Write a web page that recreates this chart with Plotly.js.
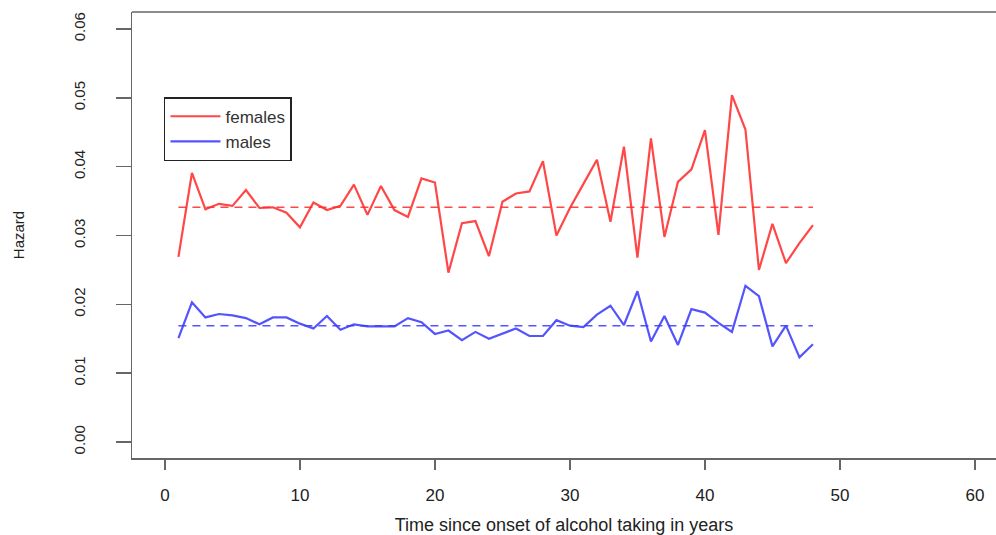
<!DOCTYPE html>
<html>
<head>
<meta charset="utf-8">
<script src="https://cdn.plot.ly/plotly-3.0.1.min.js"></script>
<style>html,body{margin:0;padding:0;background:#fff;}#chart{width:996px;height:535px;}</style>
</head>
<body>
<div id="chart"></div>
<script>
const years = [1,2,3,4,5,6,7,8,9,10,11,12,13,14,15,16,17,18,19,20,21,22,23,24,25,26,27,28,29,30,31,32,33,34,35,36,37,38,39,40,41,42,43,44,45,46,47,48];
const femalesHazard = [0.0269,0.0391,0.0338,0.0346,0.0343,0.0366,0.0340,0.0341,0.0333,0.0312,0.0348,0.0337,0.0343,0.0374,0.0330,0.0372,0.0337,0.0327,0.0383,0.0377,0.0246,0.0318,0.0321,0.0270,0.0349,0.0361,0.0364,0.0408,0.0300,0.0340,0.0375,0.0410,0.0320,0.0429,0.0268,0.0441,0.0298,0.0378,0.0396,0.0453,0.0301,0.0504,0.0454,0.0250,0.0317,0.0260,0.0289,0.0315];
const malesHazard = [0.0151,0.0203,0.0181,0.0186,0.0184,0.0180,0.0171,0.0181,0.0181,0.0172,0.0165,0.0183,0.0163,0.0171,0.0168,0.0168,0.0168,0.0180,0.0174,0.0157,0.0162,0.0148,0.0160,0.0150,0.0158,0.0165,0.0154,0.0154,0.0177,0.0169,0.0167,0.0185,0.0198,0.0170,0.0219,0.0146,0.0183,0.0141,0.0193,0.0188,0.0173,0.0160,0.0227,0.0212,0.0139,0.0169,0.0123,0.0142];
const femalesMean = 0.0341;
const malesMean = 0.0169;
const xTicks = [0,10,20,30,40,50,60];
const yTicks = [0.00,0.01,0.02,0.03,0.04,0.05,0.06];
const yTickText = ["0.00","0.01","0.02","0.03","0.04","0.05","0.06"];

const red = "rgba(255,45,45,0.88)";
const blue = "rgba(60,60,255,0.88)";
const traces = [
  {x: years, y: femalesHazard, type: "scatter", mode: "lines", name: "females",
   line: {color: red, width: 2.2}},
  {x: years, y: malesHazard, type: "scatter", mode: "lines", name: "males",
   line: {color: blue, width: 2.2}},
  {x: [years[0], years[years.length-1]], y: [femalesMean, femalesMean], type: "scatter", mode: "lines",
   showlegend: false, line: {color: red, width: 1.5, dash: "8px,6px"}},
  {x: [years[0], years[years.length-1]], y: [malesMean, malesMean], type: "scatter", mode: "lines",
   showlegend: false, line: {color: blue, width: 1.5, dash: "8px,6px"}}
];

const layout = {
  width: 996, height: 535,
  margin: {l: 132, r: 0, t: 12, b: 77},
  paper_bgcolor: "#fff", plot_bgcolor: "#fff",
  font: {family: "Liberation Sans, Arial, sans-serif", color: "#222"},
  showlegend: true,
  legend: {
    x: 0.037, y: 0.809, xanchor: "left", yanchor: "top",
    bordercolor: "#222", borderwidth: 1.5, bgcolor: "#fff",
    font: {size: 17, color: "#333"}, tracegroupgap: 0,
    itemwidth: 50
  },
  xaxis: {
    range: [-2.44, 61.56], tickvals: xTicks, ticktext: xTicks.map(String),
    showgrid: false, zeroline: false,
    showline: true, linecolor: "#666", linewidth: 1.5,
    ticks: "outside", ticklen: 10, tickcolor: "#666", tickwidth: 1.5,
    ticklabelstandoff: 11,
    tickfont: {size: 17, color: "#222"},
    title: {text: "Time since onset of alcohol taking in years", font: {size: 18, color: "#222"}, standoff: 14},
    automargin: false
  },
  yaxis: {
    range: [-0.00232, 0.06247], tickvals: yTicks, ticktext: yTickText,
    showgrid: false, zeroline: false,
    showline: true, linecolor: "#666", linewidth: 1.5,
    ticks: "outside", ticklen: 15, tickcolor: "#666", tickwidth: 1.5,
    tickangle: -90, ticklabelstandoff: 25,
    tickfont: {size: 15, color: "#222"},
    title: {text: "Hazard", font: {size: 15, color: "#222"}, standoff: 42},
    automargin: false
  },
  shapes: [
    {type: "line", xref: "paper", yref: "paper", x0: 0, x1: 1, y0: 1, y1: 1,
     line: {color: "#666", width: 1.5}}
  ]
};

Plotly.newPlot("chart", traces, layout, {staticPlot: true, displayModeBar: false});
</script>
</body>
</html>
